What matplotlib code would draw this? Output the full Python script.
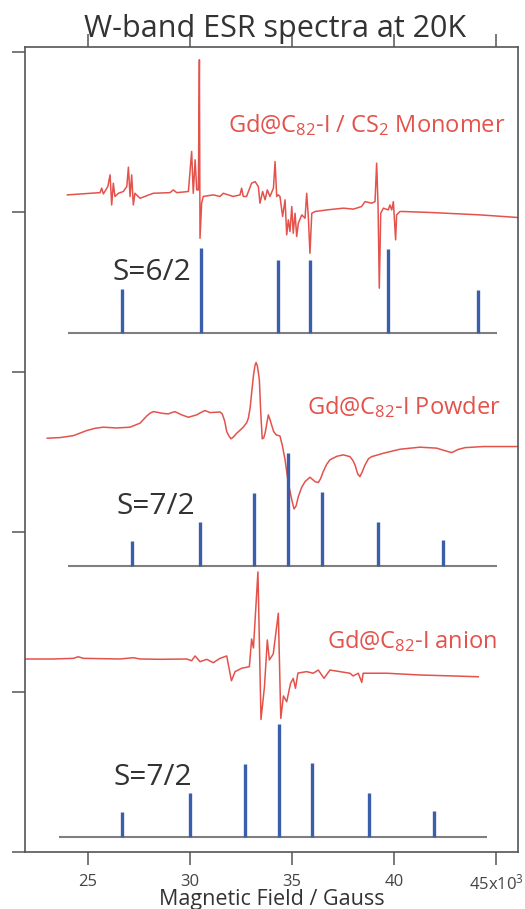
import matplotlib
matplotlib.use('Agg')
import matplotlib.pyplot as plt

plt.rcParams['font.family'] = ['Open Sans', 'DejaVu Sans']
plt.rcParams['mathtext.default'] = 'regular'

# ---------------- data (field in units of 10^3 G) ----------------
monomer_field = [23.99, 25.59, 25.67, 25.75, 25.97, 26.08, 26.16, 26.24, 26.32, 26.49,
                 26.73, 26.90, 26.98, 27.06, 27.14, 27.22, 27.30, 27.55, 28.20, 29.02,
                 29.18, 29.35, 29.92, 30.08, 30.16, 30.25, 30.33, 30.41, 30.46, 30.49,
                 30.57, 30.65, 31.14, 31.47, 31.63, 32.12, 32.45, 32.53, 32.61, 32.77,
                 33.02, 33.19, 33.35, 33.43, 33.56, 33.68, 33.79, 33.92, 34.09, 34.17,
                 34.25, 34.33, 34.41, 34.54, 34.66, 34.74, 34.82, 34.90, 34.99, 35.06,
                 35.15, 35.23, 35.31, 35.48, 35.64, 35.72, 35.80, 35.88, 35.97, 36.13,
                 36.70, 37.52, 38.01, 38.41, 38.58, 38.91, 39.07, 39.15, 39.22, 39.28,
                 39.35, 39.48, 39.72, 39.80, 39.89, 39.97, 40.08, 40.13, 40.29, 40.46,
                 41.78, 44.22, 46.14]
monomer_signal = [0.000, 0.014, 0.042, 0.006, 0.052, 0.125, -0.063, 0.073, -0.010, 0.010,
                  0.021, 0.052, 0.173, -0.010, 0.125, -0.063, 0.010, -0.021, 0.010, 0.014,
                  0.031, 0.014, 0.021, 0.271, 0.010, 0.219, 0.031, 0.031, 0.844, -0.271,
                  -0.052, -0.010, 0.000, -0.010, 0.010, -0.010, 0.000, 0.042, -0.010, -0.010,
                  0.073, 0.083, 0.052, -0.052, 0.021, -0.031, 0.031, -0.010, 0.042, 0.208,
                  -0.010, 0.000, -0.010, -0.135, -0.031, -0.250, -0.156, -0.229, -0.073, -0.240,
                  -0.115, -0.260, -0.177, -0.125, -0.146, 0.010, -0.135, -0.365, -0.115, -0.104,
                  -0.094, -0.083, -0.089, -0.073, -0.042, -0.052, -0.042, 0.198, -0.073, -0.583,
                  -0.115, -0.083, -0.094, -0.063, -0.094, -0.042, -0.281, -0.125, -0.104, -0.104,
                  -0.110, -0.125, -0.142]

powder_field = [23.00, 23.63, 24.28, 24.94, 25.35, 25.75, 26.41, 27.06, 27.55, 27.88,
                28.05, 28.20, 28.40, 28.61, 28.94, 29.10, 29.26, 29.59, 29.92, 30.33,
                30.55, 30.74, 30.98, 31.47, 31.58, 31.70, 31.80, 31.92, 32.01, 32.12,
                32.29, 32.61, 32.78, 32.86, 32.95, 33.02, 33.12, 33.19, 33.24, 33.30,
                33.36, 33.40, 33.46, 33.54, 33.61, 33.68, 33.84, 33.92, 34.00, 34.10,
                34.22, 34.41, 34.53, 34.66, 34.82, 34.99, 35.10, 35.20, 35.31, 35.47,
                35.64, 35.88, 36.13, 36.29, 36.40, 36.53, 36.70, 36.86, 37.20, 37.51,
                37.84, 37.98, 38.09, 38.22, 38.33, 38.45, 38.58, 38.75, 38.91, 39.48,
                40.29, 41.27, 42.09, 42.50, 42.83, 43.15, 43.48, 44.38, 46.14]
powder_signal = [-0.002, 0.002, 0.014, 0.046, 0.060, 0.067, 0.062, 0.067, 0.092, 0.137,
                 0.155, 0.164, 0.160, 0.154, 0.150, 0.158, 0.164, 0.144, 0.129, 0.144,
                 0.160, 0.171, 0.158, 0.162, 0.150, 0.105, 0.039, 0.010, -0.006, 0.005,
                 0.029, 0.067, 0.095, 0.123, 0.190, 0.279, 0.400, 0.455, 0.471, 0.450,
                 0.400, 0.362, 0.180, -0.006, 0.000, 0.029, 0.144, 0.115, 0.081, 0.040,
                 0.019, 0.012, -0.050, -0.137, -0.283, -0.387, -0.444, -0.425, -0.367, -0.310,
                 -0.273, -0.246, -0.273, -0.279, -0.255, -0.211, -0.165, -0.137, -0.115, -0.106,
                 -0.117, -0.140, -0.169, -0.225, -0.242, -0.210, -0.169, -0.130, -0.117, -0.096,
                 -0.071, -0.058, -0.064, -0.080, -0.092, -0.072, -0.061, -0.054, -0.054]

anion_field = [21.90, 23.30, 24.28, 24.52, 24.77, 26.57, 27.22, 27.55, 28.53, 29.84,
               30.08, 30.25, 30.49, 30.82, 31.14, 31.47, 31.80, 32.03, 32.21, 32.53,
               32.91, 33.02, 33.11, 33.33, 33.48, 33.65, 33.79, 33.89, 34.08, 34.33,
               34.45, 34.58, 34.74, 34.93, 35.06, 35.17, 35.29, 35.72, 36.04, 36.29,
               36.57, 36.86, 37.35, 37.84, 38.00, 38.25, 38.42, 38.49, 39.64, 41.27,
               42.90, 44.13]
anion_signal = [0.000, 0.000, 0.004, 0.014, 0.004, 0.000, 0.008, 0.000, -0.002, 0.000,
                -0.011, 0.019, -0.017, -0.002, -0.023, 0.004, 0.019, -0.136, -0.079, -0.058,
                -0.048, 0.125, 0.069, 0.544, -0.378, -0.173, 0.119, -0.006, 0.031, 0.286,
                -0.371, -0.231, -0.267, -0.152, -0.121, -0.183, -0.088, -0.079, -0.089, -0.069,
                -0.121, -0.069, -0.079, -0.089, -0.106, -0.089, -0.146, -0.089, -0.089, -0.100,
                -0.106, -0.111]

# stick spectra
s6_field = [26.67, 30.54, 34.31, 35.88, 39.71, 44.12]
s6_height = [0.275, 0.531, 0.456, 0.456, 0.525, 0.269]
powder_stick_field = [27.16, 30.49, 33.14, 34.80, 36.47, 39.22, 42.40]
anion_stick_field = [26.67, 30.00, 32.70, 34.36, 35.98, 38.77, 41.96]
s7_height = [0.156, 0.275, 0.456, 0.706, 0.462, 0.275, 0.162]

x_ticks = [25, 30, 35, 40, 45]
x_tick_labels = ['25', '30', '35', '40', '45x10$^{3}$']

# vertical offsets of the stacked traces
off_monomer, off_powder, off_anion = 4.106, 2.5875, 1.206
base_s6, base_s7a, base_s7b = 3.244, 1.7875, 0.094

RED = '#E4524C'
BLUE = '#3B5EAB'
GREY = '#7F7F7F'
FRAME = '#555555'

fig = plt.figure(figsize=(5.25, 9.09), dpi=100)
ax = fig.add_axes([25 / 525, (909 - 852) / 909, (518 - 25) / 525, (852 - 47) / 909])

ax.plot(monomer_field, [v + off_monomer for v in monomer_signal], color=RED, lw=1.1)
ax.plot(powder_field, [v + off_powder for v in powder_signal], color=RED, lw=1.1)
ax.plot(anion_field, [v + off_anion for v in anion_signal], color=RED, lw=1.1)

# sticks + baselines
ax.hlines(base_s6, 24.02, 45.05, color=GREY, lw=1.5)
ax.vlines(s6_field, base_s6, [base_s6 + h for h in s6_height], color=BLUE, lw=2.4)
ax.hlines(base_s7a, 24.02, 45.05, color=GREY, lw=1.5)
ax.vlines(powder_stick_field, base_s7a, [base_s7a + h for h in s7_height], color=BLUE, lw=2.4)
ax.hlines(base_s7b, 23.58, 44.56, color=GREY, lw=1.5)
ax.vlines(anion_stick_field, base_s7b, [base_s7b + h for h in s7_height], color=BLUE, lw=2.4)

# labels
lab_kw = dict(color=RED, fontsize=17, va='baseline', ha='left')
ax.text(31.86, 4.496, 'Gd@C$_{82}$-I / CS$_{2}$ Monomer', **lab_kw)
ax.text(35.72, 2.738, 'Gd@C$_{82}$-I Powder', **lab_kw)
ax.text(36.72, 1.273, 'Gd@C$_{82}$-I anion', **lab_kw)

s_kw = dict(color='#333333', fontsize=21.5, va='baseline', ha='left')
ax.text(26.20, 3.575, 'S=6/2', **s_kw)
ax.text(26.40, 2.112, 'S=7/2', **s_kw)
ax.text(26.25, 0.419, 'S=7/2', **s_kw)

ax.set_xlim(21.91, 46.08)
ax.set_ylim(0, 5.03)
ax.set_xticks(x_ticks)
ax.set_xticklabels(x_tick_labels)
ax.set_yticks([0, 1, 2, 3, 4, 5])
ax.set_yticklabels([])
ax.tick_params(axis='x', top=True, bottom=True, direction='out', length=9.5,
               width=1.1, color=FRAME, labelsize=12, labelcolor='#444444', pad=6)
ax.tick_params(axis='y', left=True, right=False, direction='out', length=9.5,
               width=1.1, color=FRAME)
for s in ax.spines.values():
    s.set_color(FRAME)
    s.set_linewidth(1.2)

fig.text(275 / 525, 1 - 37 / 909, 'W-band ESR spectra at 20K', ha='center',
         va='baseline', fontsize=22, color='#333333')
fig.text(272 / 525, 1 - 905 / 909, 'Magnetic Field / Gauss', ha='center',
         va='baseline', fontsize=15.5, color='#333333')

fig.savefig('out.png', dpi=100)
